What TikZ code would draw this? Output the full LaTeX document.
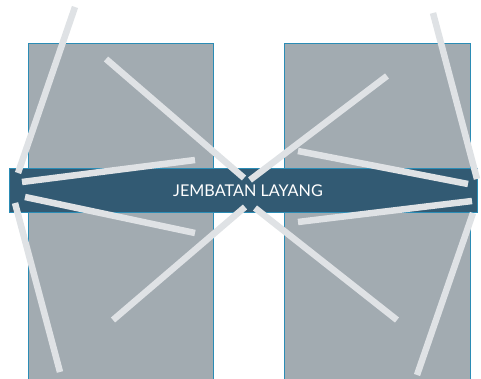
\documentclass[tikz,border=0pt]{standalone}
\usepackage{fontspec}
\setmainfont{Lato}
\usepackage{tikz}

\definecolor{gris}{HTML}{A2ABB1}
\definecolor{borde}{HTML}{2B8CB5}
\definecolor{azul}{HTML}{325A73}
\definecolor{claro}{HTML}{DFE2E5}

\begin{document}
\begin{tikzpicture}[x=1pt, y=-1pt,
							pilar/.style={draw=borde, fill=gris, line width=0.8pt},
							banda/.style={draw=borde, fill=azul, line width=0.6pt},
							tirante/.style={draw=claro, line width=6.5pt},
							rotulo/.style={text=white, font=\fontsize{16.2}{16}\selectfont, inner sep=0pt}
							]
							\useasboundingbox (0,0) rectangle (481,379);
							
							% Pilares
							\draw[pilar] (28,43) rectangle (213,390);
							\draw[pilar] (284,43) rectangle (470,390);
							
							% Tablero del puente
							\draw[banda] (9,168) rectangle (477,212);
							\node[rotulo] (titulo) at (248,190.5) {JEMBATAN LAYANG};
							
							% Tirantes
							\foreach \xa/\ya/\xb/\yb in {75/7/18/173, 106/59/244/178, 195/160/22/182,
								433/13/477/179, 387/76/250/180, 298/151/468/184,
								15/203/60/372, 25/197/195/233, 245/207/113/320,
								472/201/298/222, 473/213/417/375, 255/208/397/320}
							\draw[tirante] (\xa,\ya) -- (\xb,\yb);
						\end{tikzpicture}
\end{document}
